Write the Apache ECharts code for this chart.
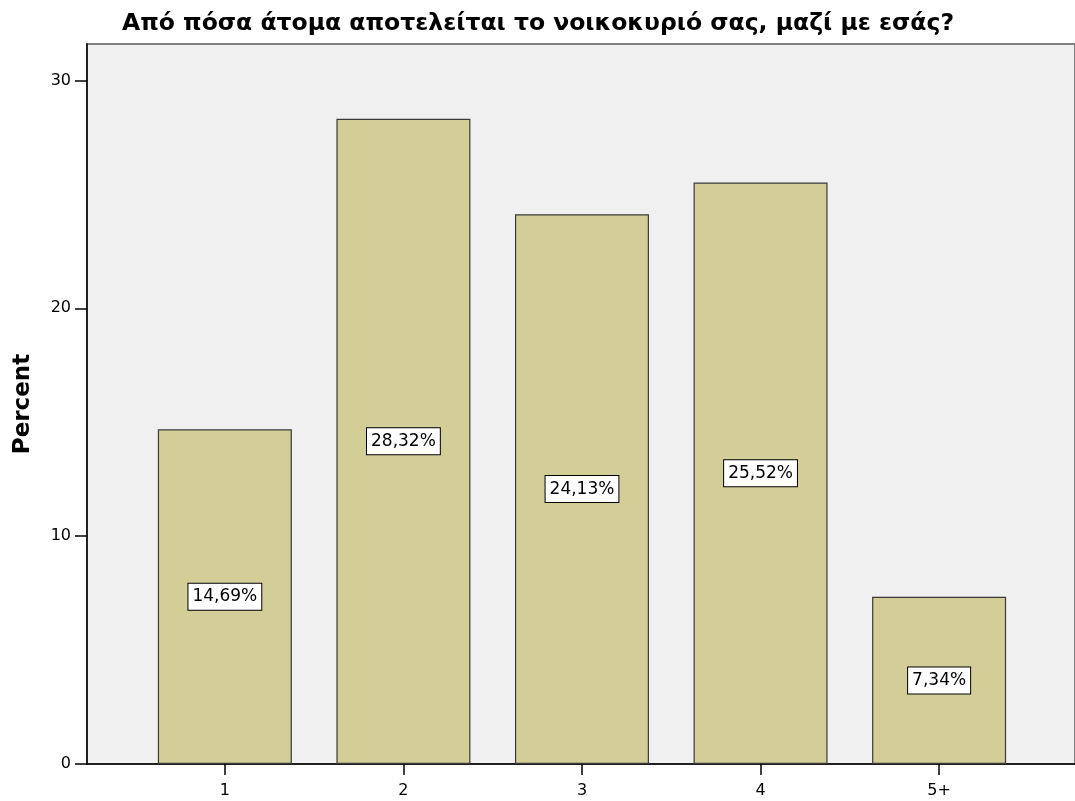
<!DOCTYPE html>
<html>
<head>
<meta charset="utf-8">
<script src="https://cdn.jsdelivr.net/npm/echarts@6/dist/echarts.min.js"></script>
<style>html,body{margin:0;padding:0;background:#fff}#c{width:1075px;height:801px}</style>
</head>
<body>
<div id="c"></div>
<script>
const title = 'Από πόσα άτομα αποτελείται το νοικοκυριό σας, μαζί με εσάς?';
const categories = ['1', '2', '3', '4', '5+'];
const percents = [14.69, 28.32, 24.13, 25.52, 7.34];
const yTicks = [0, 10, 20, 30];
const positions = categories.map((c, i) => i + 1);

const FONT = '"DejaVu Sans", "Liberation Sans", Arial, sans-serif';
const chart = echarts.init(document.getElementById('c'), null, {renderer: 'canvas'});
chart.setOption({
  animation: false,
  backgroundColor: '#ffffff',
  title: {
    text: title, left: 533, top: 7, textAlign: 'center',
    textStyle: {fontFamily: FONT, fontSize: 23.5, fontWeight: 'bold', color: '#000'}
  },
  grid: {
    left: 87, top: 44, right: -1, bottom: 37, show: true,
    backgroundColor: '#f0f0f0', borderColor: '#808080', borderWidth: 2
  },
  xAxis: {
    type: 'value', min: 0.228, max: 5.761,
    splitLine: {show: false},
    axisLine: {show: true, onZero: false, lineStyle: {color: '#000', width: 1.5}},
    axisTick: {show: true, length: 11, customValues: positions, lineStyle: {color: '#000', width: 1.5}},
    axisLabel: {
      customValues: positions, margin: 19, color: '#000', fontFamily: FONT, fontSize: 16,
      formatter: v => categories[Math.round(v) - 1]
    }
  },
  yAxis: {
    type: 'value', min: 0, max: 31.6,
    name: 'Percent', nameLocation: 'middle', nameGap: 52, nameRotate: 90,
    nameMoveOverlap: false,
    nameTextStyle: {fontFamily: FONT, fontSize: 23, fontWeight: 'bold', color: '#000'},
    splitLine: {show: false},
    axisLine: {show: true, lineStyle: {color: '#000', width: 1.5}},
    axisTick: {show: true, length: 12, customValues: yTicks, lineStyle: {color: '#000', width: 1.5}},
    axisLabel: {customValues: yTicks, margin: 16, color: '#000', fontFamily: FONT, fontSize: 16}
  },
  series: [{
    type: 'bar',
    data: positions.map((p, i) => [p, percents[i]]),
    barWidth: 134,
    itemStyle: {color: '#d3ce97', borderColor: '#3a3a3a', borderWidth: 1.2},
    label: {
      show: true, position: 'inside',
      formatter: p => p.value[1].toFixed(2).replace('.', ',') + '%',
      fontFamily: FONT, fontSize: 17, color: '#000',
      backgroundColor: '#ffffff', borderColor: '#000', borderWidth: 1,
      padding: [5, 4, 4, 4]
    }
  }]
});
</script>
</body>
</html>
